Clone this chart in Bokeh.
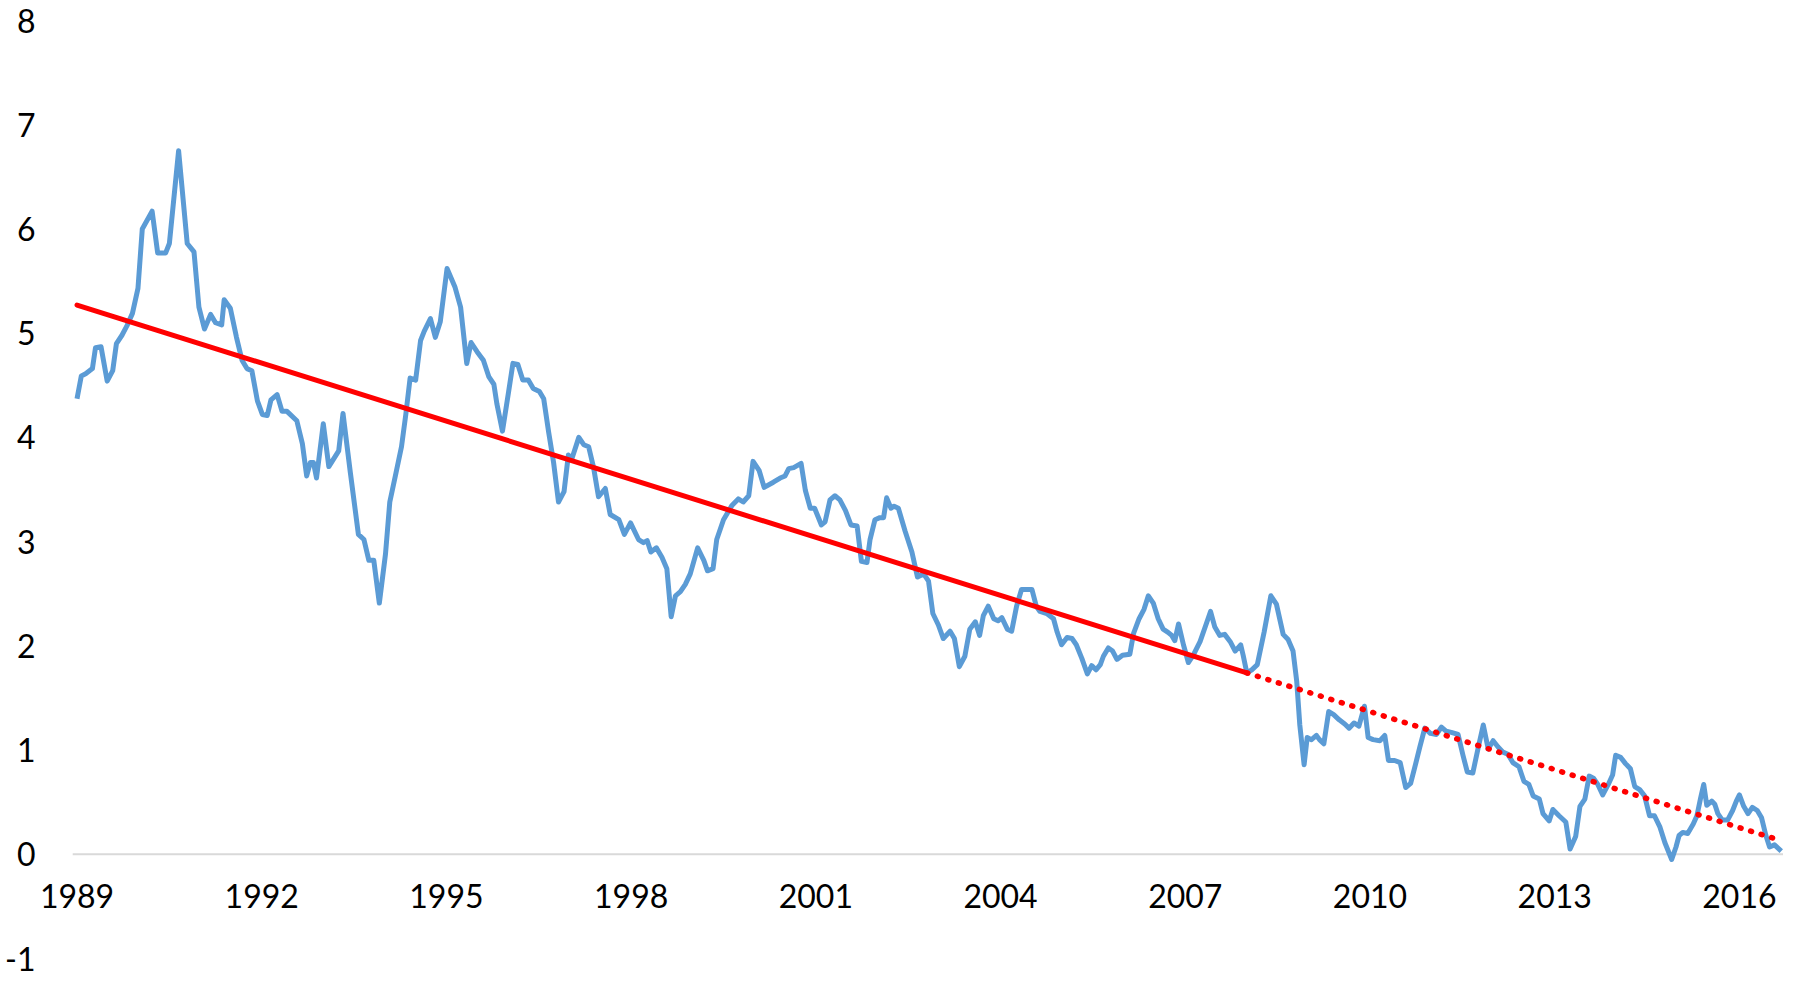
from bokeh.plotting import figure
from bokeh.models import Range1d, FixedTicker
from bokeh.embed import file_html
from bokeh.resources import INLINE

# Monthly series (decimal years)
dates = [
    1989.00, 1989.07, 1989.14, 1989.25, 1989.30, 1989.39, 1989.49, 1989.58, 1989.64, 1989.73,
    1989.81, 1989.90, 1989.99, 1990.06, 1990.22, 1990.31, 1990.44, 1990.50, 1990.65, 1990.79,
    1990.90, 1990.98, 1991.07, 1991.17, 1991.25, 1991.35, 1991.39, 1991.49, 1991.59, 1991.68,
    1991.76, 1991.84, 1991.93, 1992.01, 1992.09, 1992.15, 1992.25, 1992.33, 1992.41, 1992.57,
    1992.66, 1992.73, 1992.79, 1992.84, 1992.89, 1993.00, 1993.09, 1993.25, 1993.32, 1993.44,
    1993.57, 1993.66, 1993.74, 1993.82, 1993.91, 1994.01, 1994.08, 1994.17, 1994.27, 1994.34,
    1994.41, 1994.50, 1994.58, 1994.64, 1994.74, 1994.82, 1994.90, 1995.01, 1995.14, 1995.23,
    1995.33, 1995.40, 1995.50, 1995.60, 1995.69, 1995.77, 1995.82, 1995.91, 1996.01, 1996.08,
    1996.16, 1996.24, 1996.33, 1996.41, 1996.51, 1996.58, 1996.66, 1996.74, 1996.82, 1996.91,
    1996.98, 1997.04, 1997.15, 1997.23, 1997.31, 1997.39, 1997.47, 1997.58, 1997.66, 1997.80,
    1997.89, 1997.99, 1998.12, 1998.20, 1998.26, 1998.32, 1998.41, 1998.50, 1998.58, 1998.65,
    1998.72, 1998.80, 1998.88, 1998.96, 1999.08, 1999.18, 1999.24, 1999.33, 1999.39, 1999.50,
    1999.64, 1999.74, 1999.82, 1999.91, 1999.98, 2000.08, 2000.16, 2000.31, 2000.42, 2000.50,
    2000.56, 2000.64, 2000.76, 2000.83, 2000.91, 2000.98, 2001.09, 2001.15, 2001.23, 2001.31,
    2001.39, 2001.48, 2001.57, 2001.67, 2001.74, 2001.83, 2001.88, 2001.96, 2002.04, 2002.10,
    2002.15, 2002.22, 2002.27, 2002.34, 2002.45, 2002.56, 2002.65, 2002.75, 2002.83, 2002.90,
    2002.99, 2003.07, 2003.18, 2003.25, 2003.33, 2003.42, 2003.50, 2003.59, 2003.66, 2003.72,
    2003.80, 2003.89, 2003.96, 2004.02, 2004.11, 2004.18, 2004.26, 2004.34, 2004.51, 2004.58,
    2004.64, 2004.75, 2004.86, 2004.92, 2004.99, 2005.08, 2005.16, 2005.23, 2005.32, 2005.41,
    2005.48, 2005.55, 2005.62, 2005.67, 2005.75, 2005.82, 2005.89, 2005.98, 2006.10, 2006.16,
    2006.25, 2006.33, 2006.40, 2006.48, 2006.56, 2006.64, 2006.72, 2006.78, 2006.83, 2006.89,
    2006.97, 2007.05, 2007.13, 2007.24, 2007.34, 2007.41, 2007.48, 2007.56, 2007.64, 2007.73,
    2007.81, 2007.90, 2007.94, 2008.00, 2008.08, 2008.17, 2008.28, 2008.39, 2008.48, 2008.59,
    2008.67, 2008.75, 2008.81, 2008.86, 2008.93, 2008.98, 2009.05, 2009.13, 2009.18, 2009.25,
    2009.33, 2009.41, 2009.50, 2009.59, 2009.66, 2009.74, 2009.82, 2009.91, 2009.97, 2010.05,
    2010.16, 2010.24, 2010.30, 2010.40, 2010.49, 2010.58, 2010.66, 2010.73, 2010.81, 2010.89,
    2010.98, 2011.08, 2011.16, 2011.24, 2011.32, 2011.43, 2011.51, 2011.58, 2011.67, 2011.76,
    2011.84, 2011.92, 2012.00, 2012.08, 2012.16, 2012.24, 2012.32, 2012.42, 2012.50, 2012.58,
    2012.65, 2012.75, 2012.81, 2012.91, 2012.97, 2013.07, 2013.18, 2013.25, 2013.34, 2013.41,
    2013.49, 2013.56, 2013.63, 2013.70, 2013.78, 2013.87, 2013.94, 2013.99, 2014.07, 2014.15,
    2014.23, 2014.30, 2014.38, 2014.46, 2014.54, 2014.62, 2014.71, 2014.79, 2014.90, 2014.97,
    2015.02, 2015.08, 2015.16, 2015.25, 2015.31, 2015.37, 2015.42, 2015.47, 2015.55, 2015.60,
    2015.65, 2015.72, 2015.81, 2015.89, 2015.95, 2016.00, 2016.07, 2016.14, 2016.21, 2016.29,
    2016.36, 2016.43, 2016.49, 2016.57, 2016.68,
]

values = [
    4.37, 4.59, 4.61, 4.66, 4.86, 4.87, 4.54, 4.64, 4.90, 4.98,
    5.07, 5.19, 5.43, 6.00, 6.17, 5.77, 5.77, 5.86, 6.75, 5.86,
    5.78, 5.25, 5.04, 5.18, 5.10, 5.08, 5.32, 5.24, 4.96, 4.74,
    4.66, 4.64, 4.35, 4.22, 4.21, 4.36, 4.41, 4.25, 4.25, 4.16,
    3.94, 3.63, 3.76, 3.76, 3.61, 4.13, 3.72, 3.87, 4.23, 3.66,
    3.07, 3.02, 2.82, 2.82, 2.41, 2.88, 3.38, 3.63, 3.91, 4.22,
    4.57, 4.55, 4.93, 5.02, 5.14, 4.96, 5.11, 5.62, 5.44, 5.25,
    4.71, 4.91, 4.82, 4.74, 4.58, 4.51, 4.32, 4.06, 4.44, 4.71,
    4.70, 4.55, 4.55, 4.47, 4.44, 4.37, 4.05, 3.76, 3.38, 3.48,
    3.83, 3.80, 4.00, 3.93, 3.91, 3.71, 3.43, 3.51, 3.26, 3.21,
    3.07, 3.18, 3.02, 2.99, 3.01, 2.90, 2.94, 2.85, 2.74, 2.28,
    2.48, 2.52, 2.59, 2.69, 2.94, 2.82, 2.72, 2.74, 3.02, 3.21,
    3.35, 3.41, 3.38, 3.44, 3.77, 3.68, 3.52, 3.57, 3.61, 3.63,
    3.70, 3.71, 3.75, 3.49, 3.32, 3.32, 3.16, 3.19, 3.40, 3.44,
    3.40, 3.30, 3.16, 3.15, 2.81, 2.80, 3.02, 3.21, 3.23, 3.23,
    3.42, 3.32, 3.34, 3.32, 3.10, 2.90, 2.66, 2.69, 2.62, 2.31,
    2.20, 2.07, 2.14, 2.07, 1.80, 1.90, 2.16, 2.23, 2.10, 2.29,
    2.38, 2.26, 2.24, 2.27, 2.16, 2.14, 2.38, 2.54, 2.54, 2.38,
    2.33, 2.31, 2.26, 2.13, 2.01, 2.08, 2.07, 2.01, 1.88, 1.73,
    1.81, 1.77, 1.82, 1.90, 1.98, 1.95, 1.87, 1.91, 1.92, 2.12,
    2.26, 2.35, 2.48, 2.41, 2.26, 2.16, 2.13, 2.10, 2.05, 2.21,
    2.01, 1.84, 1.91, 2.04, 2.21, 2.33, 2.18, 2.10, 2.11, 2.04,
    1.95, 2.01, 1.91, 1.74, 1.77, 1.82, 2.13, 2.48, 2.40, 2.11,
    2.06, 1.95, 1.66, 1.24, 0.86, 1.12, 1.10, 1.14, 1.10, 1.06,
    1.37, 1.34, 1.29, 1.25, 1.21, 1.26, 1.23, 1.42, 1.12, 1.10,
    1.09, 1.14, 0.90, 0.90, 0.88, 0.64, 0.68, 0.84, 1.03, 1.21,
    1.16, 1.15, 1.22, 1.18, 1.17, 1.15, 0.95, 0.79, 0.78, 1.03,
    1.24, 1.01, 1.09, 1.03, 0.98, 0.96, 0.88, 0.84, 0.70, 0.67,
    0.56, 0.53, 0.39, 0.32, 0.43, 0.37, 0.31, 0.05, 0.17, 0.46,
    0.53, 0.75, 0.73, 0.67, 0.57, 0.67, 0.76, 0.95, 0.93, 0.87,
    0.82, 0.65, 0.62, 0.56, 0.37, 0.37, 0.26, 0.11, -0.05, 0.07,
    0.18, 0.21, 0.20, 0.29, 0.37, 0.54, 0.67, 0.47, 0.51, 0.48,
    0.39, 0.33, 0.33, 0.42, 0.51, 0.57, 0.46, 0.39, 0.45, 0.42,
    0.35, 0.18, 0.07, 0.09, 0.03,
]

# Linear trend (solid part) and its projection (dotted part)
trend_dates = [1989.0, 2008.0]
trend_values = [5.27, 1.74]
proj_dates = [2008.0, 2016.68]
proj_values = [1.74, 0.13]

x_ticks = [1989, 1992, 1995, 1998, 2001, 2004, 2007, 2010, 2013, 2016]
x_labels = ["1989", "1992", "1995", "1998", "2001", "2004", "2007", "2010", "2013", "2016"]
y_ticks = [-1, 0, 1, 2, 3, 4, 5, 6, 7, 8]
y_labels = ["-1", "0", "1", "2", "3", "4", "5", "6", "7", "8"]

# plot-area extents (axis bounds, not data)
X_VIEW = (1988.342, 2016.716)
AXIS_LINE_X = (1988.93, 2016.716)

FONT = "Lato"
FSIZE = "32px"

p = figure(
    width=1783, height=978,
    output_backend="svg", toolbar_location=None,
    x_range=Range1d(*X_VIEW), y_range=Range1d(-1, 8),
    min_border_left=36, min_border_right=0, min_border_top=20, min_border_bottom=20,
)
p.outline_line_color = None
p.grid.visible = False
p.background_fill_color = "white"
p.border_fill_color = "white"

# zero baseline (light grey)
p.segment(x0=[AXIS_LINE_X[0]], y0=[0], x1=[AXIS_LINE_X[1]], y1=[0],
          line_color="#D9D9D9", line_width=2, level="underlay")

p.line(dates, values, line_color="#5B9BD5", line_width=5, line_join="round")
p.line(trend_dates, trend_values, line_color="#FF0000", line_width=5, line_cap="round")
p.line(proj_dates, proj_values, line_color="#FF0000", line_width=5.5,
       line_dash="1 10", line_cap="round")

xa = p.xaxis[0]
xa.fixed_location = 0
xa.ticker = FixedTicker(ticks=x_ticks)
xa.major_label_overrides = {t: l for t, l in zip(x_ticks, x_labels)}
xa.axis_line_color = None
xa.major_tick_line_color = None
xa.minor_tick_line_color = None
xa.major_tick_out = 0
xa.major_tick_in = 0
xa.major_label_standoff = 30
xa.major_label_text_font = FONT
xa.major_label_text_font_size = FSIZE
xa.major_label_text_color = "black"

ya = p.yaxis[0]
ya.ticker = FixedTicker(ticks=y_ticks)
ya.major_label_overrides = {t: l for t, l in zip(y_ticks, y_labels)}
ya.axis_line_color = None
ya.major_tick_line_color = None
ya.minor_tick_line_color = None
ya.major_tick_out = 0
ya.major_tick_in = 0
ya.major_label_standoff = 1
ya.major_label_text_font = FONT
ya.major_label_text_font_size = FSIZE
ya.major_label_text_color = "black"

open("out.html", "w").write(file_html(p, INLINE))
